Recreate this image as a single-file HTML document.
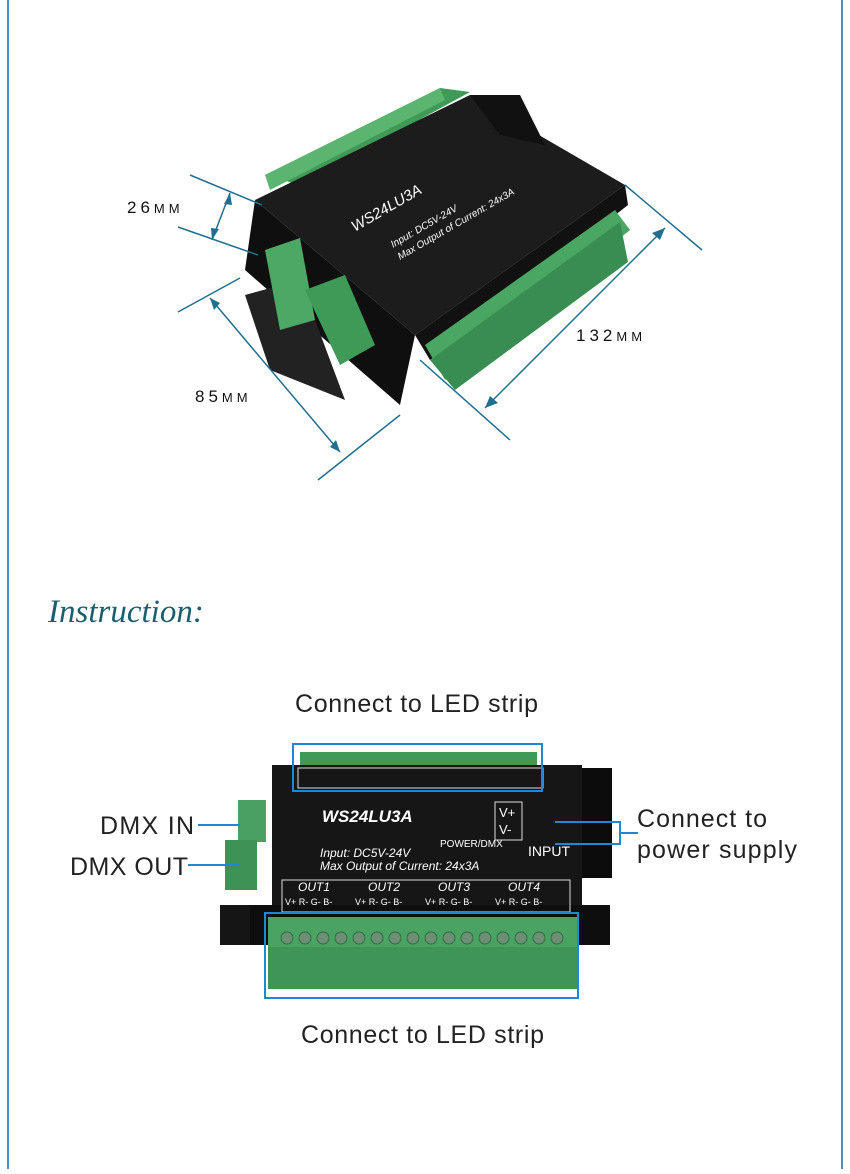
<!DOCTYPE html>
<html><head><meta charset="utf-8"><style>
html,body{margin:0;padding:0;background:#fff;}
body{width:850px;height:1169px;overflow:hidden;position:relative;font-family:"Liberation Sans",sans-serif;}
</style></head><body>
<svg width="850" height="1169" viewBox="0 0 850 1169" xmlns="http://www.w3.org/2000/svg">
<rect x="0" y="0" width="850" height="1169" fill="#fff"/>
<line x1="8" y1="0" x2="8" y2="1169" stroke="#4a90c8" stroke-width="2"/>
<line x1="842" y1="0" x2="842" y2="1169" stroke="#4a90c8" stroke-width="2"/>

<!-- TOP DEVICE (angled) -->
<g>
  <polygon points="265,175 440,88 470,92 300,185" fill="#3f9a58"/>
  <polygon points="265,175 440,88 445,100 270,190" fill="#5bb571"/>
  <polygon points="255,200 470,95 625,185 415,335" fill="#1c1c1c"/>
  <polygon points="255,200 415,335 400,405 245,270" fill="#0f0f0f"/>
  <polygon points="415,335 625,185 628,205 430,360" fill="#111"/>
  <polygon points="425,345 615,210 630,230 445,380" fill="#4aa663"/>
  <polygon points="430,360 620,222 628,262 455,390" fill="#3a8d52"/>
  <polygon points="245,295 300,280 345,400 270,370" fill="#222"/>
  <polygon points="265,250 300,238 315,320 280,330" fill="#4da866"/>
  <polygon points="305,290 345,275 375,345 340,365" fill="#3f9a58"/>
  <polygon points="470,95 520,95 545,145 500,135" fill="#111"/>
  <g fill="#fff" font-size="14" font-style="italic" transform="rotate(-30 400 200)">
    <text x="345" y="205" font-size="15">WS24LU3A</text>
    <text x="370" y="238" font-size="10">Input: DC5V-24V</text>
    <text x="370" y="252" font-size="10">Max Output of Current: 24x3A</text>
  </g>
</g>
<g stroke="#1f6f8f" stroke-width="1.5" fill="none">
  <line x1="190" y1="175" x2="262" y2="205"/>
  <line x1="178" y1="227" x2="258" y2="255"/>
  <line x1="230" y1="193" x2="212" y2="240"/>
  <line x1="178" y1="312" x2="240" y2="278"/>
  <line x1="318" y1="480" x2="400" y2="415"/>
  <line x1="210" y1="298" x2="340" y2="452"/>
  <line x1="625" y1="185" x2="702" y2="250"/>
  <line x1="420" y1="360" x2="510" y2="440"/>
  <line x1="665" y1="228" x2="485" y2="408"/>
</g>
<g fill="#1f6f8f">
  <polygon points="230,193 224,204 232,205"/>
  <polygon points="212,240 219,229 211,228"/>
  <polygon points="210,298 214,310 220,303"/>
  <polygon points="340,452 336,440 330,447"/>
  <polygon points="665,228 652,233 660,240"/>
  <polygon points="485,408 498,403 490,396"/>
</g>
<g font-size="17" fill="#111" letter-spacing="4">
  <text x="127" y="213">26<tspan font-size="13">MM</tspan></text>
  <text x="195" y="402">85<tspan font-size="13">MM</tspan></text>
  <text x="576" y="341">132<tspan font-size="13">MM</tspan></text>
</g>

<text x="48" y="622" font-family="Liberation Serif,serif" font-style="italic" font-size="33" fill="#1b5e6e">Instruction:</text>

<!-- BOTTOM DEVICE -->
<g>
  <rect x="300" y="752" width="237" height="14" fill="#3f9a58"/>
  <rect x="272" y="765" width="310" height="180" fill="#161616"/>
  <rect x="582" y="768" width="30" height="110" fill="#0c0c0c"/>
  <rect x="220" y="905" width="30" height="40" fill="#151515"/>
  <rect x="250" y="905" width="360" height="40" fill="#0e0e0e"/>
  <rect x="238" y="800" width="28" height="42" fill="#4a9f62"/>
  <rect x="225" y="840" width="32" height="50" fill="#3e9256"/>
  <rect x="298" y="768" width="245" height="20" fill="none" stroke="#ddd" stroke-width="1"/>
  <rect x="268" y="917" width="310" height="72" fill="#3f9557"/>
  <rect x="268" y="917" width="310" height="30" fill="#4aa263"/>
  <g fill="#6c8f75" stroke="#2f6e42">
    <circle cx="287" cy="938" r="6"/><circle cx="305" cy="938" r="6"/><circle cx="323" cy="938" r="6"/><circle cx="341" cy="938" r="6"/>
    <circle cx="359" cy="938" r="6"/><circle cx="377" cy="938" r="6"/><circle cx="395" cy="938" r="6"/><circle cx="413" cy="938" r="6"/>
    <circle cx="431" cy="938" r="6"/><circle cx="449" cy="938" r="6"/><circle cx="467" cy="938" r="6"/><circle cx="485" cy="938" r="6"/>
    <circle cx="503" cy="938" r="6"/><circle cx="521" cy="938" r="6"/><circle cx="539" cy="938" r="6"/><circle cx="557" cy="938" r="6"/>
  </g>
  <g fill="#fff" font-style="italic">
    <text x="322" y="822" font-size="17" font-weight="bold">WS24LU3A</text>
    <text x="320" y="857" font-size="12">Input: DC5V-24V</text>
    <text x="320" y="870" font-size="12">Max Output of Current: 24x3A</text>
  </g>
  <g fill="#fff" font-size="10"><text x="440" y="847">POWER/DMX</text></g>
  <text x="528" y="856" fill="#fff" font-size="14">INPUT</text>
  <rect x="495" y="802" width="27" height="38" fill="none" stroke="#ddd"/>
  <text x="499" y="817" fill="#fff" font-size="13">V+</text>
  <text x="499" y="834" fill="#fff" font-size="13">V-</text>
  <rect x="282" y="880" width="288" height="32" fill="none" stroke="#ddd"/>
  <g fill="#fff" font-size="12" font-style="italic">
    <text x="298" y="891">OUT1</text><text x="368" y="891">OUT2</text><text x="438" y="891">OUT3</text><text x="508" y="891">OUT4</text>
  </g>
  <g fill="#fff" font-size="9">
    <text x="285" y="905">V+ R- G- B-</text><text x="355" y="905">V+ R- G- B-</text>
    <text x="425" y="905">V+ R- G- B-</text><text x="495" y="905">V+ R- G- B-</text>
  </g>
</g>
<g stroke="#1e88d8" stroke-width="2" fill="none">
  <rect x="293" y="744" width="249" height="47"/>
  <rect x="265" y="913" width="313" height="85"/>
  <line x1="198" y1="825" x2="240" y2="825"/>
  <line x1="188" y1="865" x2="240" y2="865"/>
  <polyline points="555,822 620,822 620,844 555,844"/>
  <line x1="620" y1="833" x2="638" y2="833"/>
</g>
<g font-size="25" fill="#222">
  <text x="295" y="712" textLength="243">Connect to LED strip</text>
  <text x="301" y="1043" textLength="243">Connect to LED strip</text>
  <text x="100" y="834" textLength="94">DMX IN</text>
  <text x="70" y="875" textLength="118">DMX OUT</text>
  <text x="637" y="827" textLength="130">Connect to</text>
  <text x="637" y="858" textLength="160">power supply</text>
</g>
</svg>
</body></html>
